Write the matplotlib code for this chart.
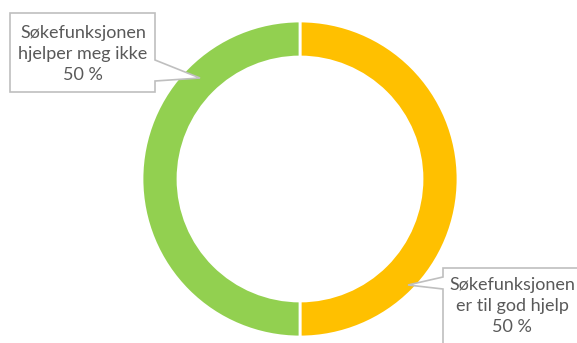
import matplotlib.pyplot as plt
from matplotlib.patches import Polygon

labels = ["Søkefunksjonen\ner til god hjelp", "Søkefunksjonen\nhjelper meg ikke"]
shares = [50, 50]
colors = ["#FFC000", "#92D050"]

W, H = 577, 343


def callout(ax, pts, text_xy, text):
    # pts in pixel coords (y down), convert to axes coords (y up)
    poly = Polygon([(x, H - y) for x, y in pts], closed=True,
                   facecolor="white", edgecolor="#BFBFBF", linewidth=1.2, zorder=3)
    ax.add_patch(poly)
    ax.text(text_xy[0], H - text_xy[1], text, ha="center", va="center",
            fontsize=13, color="#595959", family="Lato", linespacing=1.42, zorder=4)


def main():
    fig = plt.figure(figsize=(W / 100, H / 100), dpi=100)
    ax = fig.add_axes([0, 0, 1, 1])
    ax.set_xlim(0, W)
    ax.set_ylim(0, H)
    ax.set_aspect("equal")
    ax.axis("off")

    ax.pie(shares, colors=colors, startangle=90, counterclock=False,
           center=(300, H - 179), radius=158,
           wedgeprops=dict(width=36, edgecolor="white", linewidth=2))
    ax.set_xlim(0, W)
    ax.set_ylim(0, H)

    callout(ax, [(10, 13), (155, 13), (155, 60), (200, 78), (155, 81),
                 (155, 92), (10, 92)],
            (83, 54), f"{labels[1]}\n{shares[1]} %")
    callout(ax, [(443, 268), (600, 268), (600, 360), (443, 360),
                 (443, 289), (408, 285), (443, 277)],
            (512, 306), f"{labels[0]}\n{shares[0]} %")

    fig.savefig("out.png", dpi=100)


if __name__ == "__main__":
    main()
